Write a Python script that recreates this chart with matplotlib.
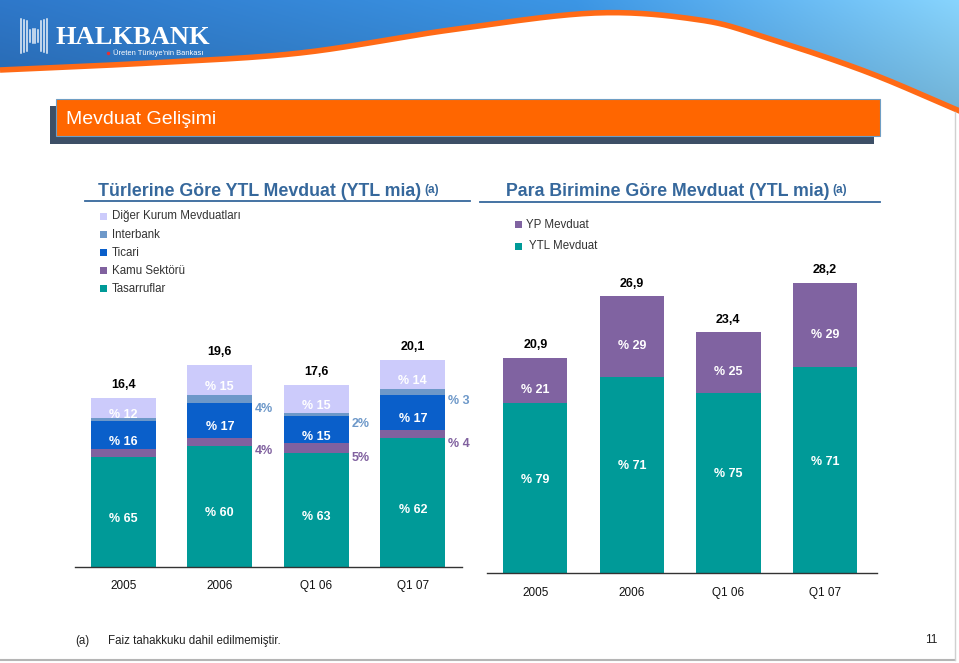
import numpy as np
import matplotlib
matplotlib.use('Agg')
import matplotlib.pyplot as plt
from matplotlib.patches import Rectangle, Polygon

plt.rcParams['font.family'] = ['Liberation Sans', 'DejaVu Sans']

# ---------------- data ----------------
periods = ['2005', '2006', 'Q1 06', 'Q1 07']

ytl_totals = [16.4, 19.6, 17.6, 20.1]
type_names = ['Diğer Kurum Mevduatları', 'Interbank', 'Ticari', 'Kamu Sektörü', 'Tasarruflar']
tasarruf_pct = [65, 60, 63, 62]
kamu_pct = [5, 4, 5, 4]
ticari_pct = [16, 17, 15, 17]
interbank_pct = [2, 4, 2, 3]
diger_pct = [12, 15, 15, 14]
kamu_labels = [None, '4%', '5%', '% 4']
interbank_labels = [None, '4%', '2%', '% 3']

currency_totals = [20.9, 26.9, 23.4, 28.2]
currency_names = ['YP Mevduat', ' YTL Mevduat']
ytl_share_pct = [79, 71, 75, 71]
yp_share_pct = [21, 29, 25, 29]

# ---------------- styles ----------------
C_TAS = '#009a98'
C_KAMU = '#80619f'
C_TIC = '#0a5fca'
C_INT = '#6d98c9'
C_DIG = '#cccbfb'
C_YP = '#8063a1'
C_YTL = '#009a98'
C_TITLE = '#36689c'

W, H = 959, 663
fig = plt.figure(figsize=(W / 100, H / 100), dpi=100)
bg = fig.add_axes([0, 0, 1, 1])
bg.set_xlim(0, W)
bg.set_ylim(H, 0)
bg.axis('off')


def px_rect(x0, y0, x1, y1):
    return [x0 / W, (H - y1) / H, (x1 - x0) / W, (y1 - y0) / H]


# ---------------- banner ----------------
cx = np.array([0, 150, 300, 450, 595, 700, 767, 867, 962])
cy = np.array([70, 63, 53, 30, 13, 20, 38, 72, 112])


def catmull(xs, ys, n=20):
    P = np.column_stack([xs, ys]).astype(float)
    P = np.vstack([P[0] * 2 - P[1], P, P[-1] * 2 - P[-2]])
    out = []
    for i in range(1, len(P) - 2):
        p0, p1, p2, p3 = P[i - 1], P[i], P[i + 1], P[i + 2]
        for t in np.linspace(0, 1, n, endpoint=False):
            t2, t3 = t * t, t * t * t
            out.append(0.5 * ((2 * p1) + (-p0 + p2) * t + (2 * p0 - 5 * p1 + 4 * p2 - p3) * t2
                              + (-p0 + 3 * p1 - 3 * p2 + p3) * t3))
    out.append(P[-2])
    return np.array(out)


curve = catmull(cx, cy)
poly = Polygon(np.vstack([curve, [[962, -2], [0, -2]]]), closed=True, transform=bg.transData,
               facecolor='none', edgecolor='none')
bg.add_patch(poly)
gx = np.linspace(0, 1, 400)
gy = np.linspace(0, 1, 120)
GX, GY = np.meshgrid(gx, gy)
c_left = np.array([0.17, 0.44, 0.74])
c_mid = np.array([0.22, 0.55, 0.84])
c_right = np.array([0.50, 0.78, 0.93])
img = np.zeros((120, 400, 3))
for k in range(3):
    img[..., k] = np.where(GX < 0.6,
                           c_left[k] + (c_mid[k] - c_left[k]) * GX / 0.6,
                           c_mid[k] + (c_right[k] - c_mid[k]) * (GX - 0.6) / 0.4)
img = img * (1.07 - 0.18 * GY[..., None])
img = np.clip(img, 0, 1)
im = bg.imshow(img, extent=[0, 962, 120, 0], aspect='auto', zorder=1)
im.set_clip_path(poly)
bg.plot(curve[:, 0], curve[:, 1], color='#ff6a16', lw=4.0, zorder=2, solid_capstyle='butt')

# logo icon
for i, xx in enumerate(np.linspace(21, 47, 10)):
    d = abs(xx - 34) / 13
    if d > 0.55:
        bg.plot([xx, xx], [19 + 4 * (1 - d), 53 - 4 * (1 - d)], color='white', lw=1.1, alpha=0.9, zorder=3)
    else:
        bg.plot([xx, xx], [29 + 3 * d, 43 - 3 * d], color='white', lw=1.1, alpha=0.9, zorder=3)
bg.text(55, 37, 'HALKBANK', color='white', fontsize=19, fontweight='bold',
        family=['Liberation Serif', 'DejaVu Serif'], va='center', ha='left', zorder=3)
bg.plot([108], [53], marker='o', ms=1.5, color='#e83030', zorder=3)
bg.text(113, 53.5, "Üreten Türkiye'nin Bankası", color='white', fontsize=5.4, va='center', ha='left', zorder=3)

# ---------------- title bar ----------------
bg.add_patch(Rectangle((50, 106), 824, 38, facecolor='#3d4f66', edgecolor='none', zorder=3))
bg.add_patch(Rectangle((56, 99), 824, 37, facecolor='#ff6600', edgecolor='#6f9ec4', lw=0.8, zorder=4))
bg.text(66, 119, 'Mevduat Gelişimi', color='white', fontsize=14, va='center', ha='left', zorder=5)

# ---------------- section titles ----------------
t1 = bg.text(98, 191, 'Türlerine Göre YTL Mevduat (YTL mia)', color=C_TITLE, fontsize=12.8,
             fontweight='bold', va='center', ha='left')
bg.annotate('(a)', xy=(1, 0.9), xycoords=t1, xytext=(2, 0), textcoords='offset points',
            color=C_TITLE, fontsize=8.5, fontweight='bold', va='top', ha='left')
t2 = bg.text(506, 191, 'Para Birimine Göre Mevduat (YTL mia)', color=C_TITLE, fontsize=12.8,
             fontweight='bold', va='center', ha='left')
bg.annotate('(a)', xy=(1, 0.9), xycoords=t2, xytext=(2, 0), textcoords='offset points',
            color=C_TITLE, fontsize=8.5, fontweight='bold', va='top', ha='left')
bg.plot([85, 470], [201, 201], color=C_TITLE, lw=1.3)
bg.plot([480, 880], [202, 202], color=C_TITLE, lw=1.3)

# ---------------- legends ----------------
leg_colors = [C_DIG, C_INT, C_TIC, C_KAMU, C_TAS]
for i, (nm, col) in enumerate(zip(type_names, leg_colors)):
    y = 216.5 + i * 18
    bg.add_patch(Rectangle((100, y - 3.5), 7, 7, facecolor=col, edgecolor='none'))
    bg.text(112, y, nm, fontsize=8.3, color='#333333', va='center', ha='left')
for i, (nm, col) in enumerate(zip(currency_names, [C_YP, C_YTL])):
    y = 224.5 + i * 21.5
    bg.add_patch(Rectangle((515, y - 3.5), 7, 7, facecolor=col, edgecolor='none'))
    bg.text(526, y, nm, fontsize=8.3, color='#333333', va='center', ha='left')


def fmt(v):
    return f'{v:.1f}'.replace('.', ',')


# ---------------- left chart ----------------
L_SCALE = 10.32
L_BASE = 567
L_TOP = 21.5
axL = fig.add_axes(px_rect(75, L_BASE - L_TOP * L_SCALE, 462, L_BASE))
xpos = np.arange(len(periods))
bw = 0.674
segs = [(tasarruf_pct, C_TAS), (kamu_pct, C_KAMU), (ticari_pct, C_TIC),
        (interbank_pct, C_INT), (diger_pct, C_DIG)]
bottoms = np.zeros(len(periods))
tot = np.array(ytl_totals)
seg_info = []
for pct, col in segs:
    h = tot * np.array(pct) / 100.0
    axL.bar(xpos, h, bw, bottom=bottoms, color=col, edgecolor='none')
    seg_info.append((bottoms.copy(), h.copy(), pct))
    bottoms = bottoms + h

for idx in (0, 2, 4):
    b, h, pct = seg_info[idx]
    for i in range(len(periods)):
        axL.annotate(f'% {pct[i]}', xy=(xpos[i], b[i] + h[i] / 2), xytext=(0, -5),
                     textcoords='offset points', ha='center', va='center', color='white',
                     fontsize=9, fontweight='bold')
for idx, labels, col in ((1, kamu_labels, C_KAMU), (3, interbank_labels, C_INT)):
    b, h, pct = seg_info[idx]
    for i in range(len(periods)):
        if labels[i]:
            axL.annotate(labels[i], xy=(xpos[i] + bw / 2, b[i] + h[i] / 2), xytext=(2, -7),
                         textcoords='offset points', ha='left', va='center', color=col,
                         fontsize=9, fontweight='bold')
for i in range(len(periods)):
    axL.annotate(fmt(ytl_totals[i]), xy=(xpos[i], ytl_totals[i]), xytext=(0, 5),
                 textcoords='offset points', ha='center', va='bottom', color='black',
                 fontsize=9, fontweight='bold')

axL.set_xlim(-0.5, 3.51)
axL.set_ylim(0, L_TOP)

# ---------------- right chart ----------------
R_SCALE = 10.28
R_BASE = 573
R_TOP = 30
axR = fig.add_axes(px_rect(487, R_BASE - R_TOP * R_SCALE, 877, R_BASE))
bw2 = 0.667
ctot = np.array(currency_totals)
h_ytl = ctot * np.array(ytl_share_pct) / 100.0
h_yp = ctot * np.array(yp_share_pct) / 100.0
axR.bar(xpos, h_ytl, bw2, color=C_YTL, edgecolor='none')
axR.bar(xpos, h_yp, bw2, bottom=h_ytl, color=C_YP, edgecolor='none')
for i in range(len(periods)):
    axR.annotate(f'% {ytl_share_pct[i]}', xy=(xpos[i], h_ytl[i] / 2), xytext=(0, 6),
                 textcoords='offset points', ha='center', va='center', color='white',
                 fontsize=9, fontweight='bold')
    axR.annotate(f'% {yp_share_pct[i]}', xy=(xpos[i], h_ytl[i] + h_yp[i] / 2), xytext=(0, -7),
                 textcoords='offset points', ha='center', va='center', color='white',
                 fontsize=9, fontweight='bold')
    axR.annotate(fmt(currency_totals[i]), xy=(xpos[i], currency_totals[i]), xytext=(0, 5),
                 textcoords='offset points', ha='center', va='bottom', color='black',
                 fontsize=9, fontweight='bold')
axR.set_xlim(-0.5, 3.54)
axR.set_ylim(0, R_TOP)

for ax, pad in ((axL, 9.5), (axR, 10.0)):
    ax.set_facecolor('none')
    for s in ('top', 'right', 'left'):
        ax.spines[s].set_visible(False)
    ax.spines['bottom'].set_color('#333333')
    ax.spines['bottom'].set_linewidth(1.0)
    ax.set_yticks([])
    ax.set_xticks(xpos)
    ax.set_xticklabels(periods, fontsize=8.5, color='#111111')
    ax.tick_params(axis='x', length=0, pad=pad)

# ---------------- footer ----------------
bg.text(75, 641, '(a)', fontsize=8.3, color='#222222', va='center', ha='left')
bg.text(108, 641, 'Faiz tahakkuku dahil edilmemiştir.', fontsize=8.3, color='#222222',
        va='center', ha='left')
bg.text(937, 640, '11', fontsize=8.5, color='#222222', va='center', ha='right')
bg.plot([0, 955], [660, 660], color='#b5b5b5', lw=1.5)
bg.plot([955, 955], [112, 660], color='#d0d0d0', lw=1.0)

fig.savefig('out.png', dpi=100)
